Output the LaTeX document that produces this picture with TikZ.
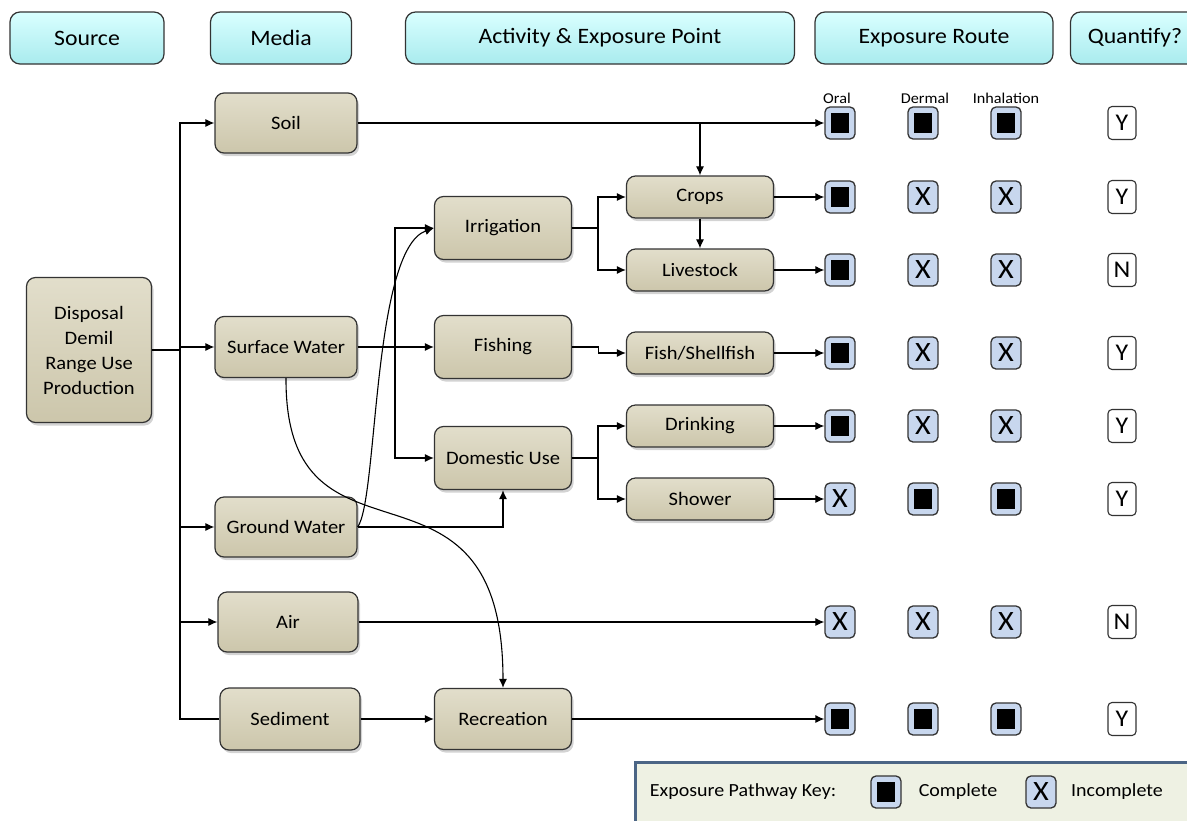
\documentclass[tikz,border=0pt]{standalone}
\usepackage{fontspec}
\setmainfont{Carlito}[FakeStretch=1.08]
\usetikzlibrary{shadows,arrows.meta}
\definecolor{hdrtop}{HTML}{D9FFFF}
\definecolor{hdrbot}{HTML}{A9EBEE}
\definecolor{tantop}{HTML}{E2DECB}
\definecolor{tanbot}{HTML}{CCC6AB}
\definecolor{symbg}{HTML}{C8D7EE}
\definecolor{keybg}{HTML}{EEF1E3}
\definecolor{keyline}{HTML}{4B6585}
\newcommand\sqfill{\rule{18pt}{20pt}}
\newcommand\sqx{X}

\begin{document}
\begin{tikzpicture}[x=1pt,y=-1pt,
	hdrbox/.style={draw=black!80,line width=1.2pt,rounded corners=10pt,top color=hdrtop,bottom color=hdrbot,minimum height=52pt,font=\fontsize{22}{26}\selectfont},
	tanbox/.style={draw=black!80,line width=1.2pt,rounded corners=9pt,top color=tantop,bottom color=tanbot,drop shadow={shadow xshift=2pt,shadow yshift=-3pt,opacity=.35},align=center,font=\fontsize{19}{25}\selectfont},
	rbox/.style={draw=black!80,line width=1.3pt,rounded corners=5pt,fill=symbg,minimum width=30pt,minimum height=32pt,inner sep=0pt,font=\fontsize{28}{28}\selectfont},
	qbox/.style={draw=black!80,line width=1.1pt,rounded corners=4pt,fill=white,minimum width=28pt,minimum height=33pt,inner sep=0pt,font=\fontsize{24}{24}\selectfont},
	arr/.style={-{Latex[length=9pt,width=8pt]},line width=1.1pt}]
	\useasboundingbox (0,0) rectangle (1187,820);
	
	\node[hdrbox,minimum width=154pt] (hsrc) at (87,38) {Source};
	\node[hdrbox,minimum width=141pt] (hmed) at (281,38) {Media};
	\node[hdrbox,minimum width=389pt] (hact) at (600,38) {Activity \& Exposure Point};
	\node[hdrbox,minimum width=238pt] (hrte) at (934,38) {Exposure Route};
	\node[hdrbox,minimum width=129pt] (hqty) at (1135,38) {Quantify?};
	
	\node[tanbox,minimum width=125pt,minimum height=145pt] (src) at (89,350) {Disposal\\Demil\\Range Use\\Production};
	\node[tanbox,minimum width=142pt,minimum height=60pt] (soil) at (286,123) {Soil};
	\node[tanbox,minimum width=142pt,minimum height=61pt] (sw) at (286,347) {Surface Water};
	\node[tanbox,minimum width=142pt,minimum height=60pt] (gw) at (286,527) {Ground Water};
	\node[tanbox,minimum width=140pt,minimum height=60pt] (air) at (288,622) {Air};
	\node[tanbox,minimum width=140pt,minimum height=62pt] (sed) at (290,719) {Sediment};
	\node[tanbox,minimum width=137pt,minimum height=63pt] (irr) at (503,228) {Irrigation};
	\node[tanbox,minimum width=137pt,minimum height=63pt] (fish) at (503,347) {Fishing};
	\node[tanbox,minimum width=137pt,minimum height=63pt] (dom) at (503,458) {Domestic Use};
	\node[tanbox,minimum width=137pt,minimum height=61pt] (rec) at (503,719) {Recreation};
	\node[tanbox,minimum width=147pt,minimum height=42pt] (crops) at (700,197) {Crops};
	\node[tanbox,minimum width=147pt,minimum height=42pt] (live) at (700,270) {Livestock};
	\node[tanbox,minimum width=147pt,minimum height=42pt] (shell) at (700,353) {Fish/Shellfish};
	\node[tanbox,minimum width=147pt,minimum height=42pt] (drink) at (700,426) {Drinking};
	\node[tanbox,minimum width=147pt,minimum height=42pt] (shower) at (700,499) {Shower};
	
	\node[font=\fontsize{15}{15}\selectfont] (lor) at (837,98) {Oral};
	\node[font=\fontsize{15}{15}\selectfont] (lde) at (925,98) {Dermal};
	\node[font=\fontsize{15}{15}\selectfont] (lin) at (1006,98) {Inhalation};
	\foreach \r/\y/\a/\b/\c/\q in {1/123/\sqfill/\sqfill/\sqfill/Y,2/197/\sqfill/\sqx/\sqx/Y,3/270/\sqfill/\sqx/\sqx/N,4/353/\sqfill/\sqx/\sqx/Y,5/426/\sqfill/\sqx/\sqx/Y,6/499/\sqx/\sqfill/\sqfill/Y,7/622/\sqx/\sqx/\sqx/N,8/719/\sqfill/\sqfill/\sqfill/Y} {
		\node[rbox] (o\r) at (840,\y) {\a};
		\node[rbox] (d\r) at (923,\y) {\b};
		\node[rbox] (i\r) at (1006,\y) {\c};
		\node[qbox] (q\r) at (1122,\y) {\q};
	}
	
	\coordinate (trk) at (180,350);
	\draw[line width=1.1pt] (src.east) -- (trk);
	\foreach \n in {soil,sw,gw,air} \draw[arr] (trk) |- (\n.west);
	\draw[line width=1.1pt] (trk) |- (sed.west);
	
	\coordinate (swj) at (395,347);
	\draw[arr] (sw.east) -- (fish.west);
	\draw[arr] (swj) |- (irr.west);
	\draw[arr] (swj) |- (dom.west);
	\draw[arr] (sw.south) .. controls (285,590) and (503,430) .. (rec.north);
	\draw[arr] (gw.east) .. controls (378,500) and (372,250) .. (irr.west);
	\draw[arr] (gw.east) -| (dom.south);
	\draw[arr] (sed.east) -- (rec.west);
	
	\coordinate (ij) at (598,228);
	\draw[line width=1.1pt] (irr.east) -- (ij);
	\draw[arr] (ij) |- (crops.west);
	\draw[arr] (ij) |- (live.west);
	\draw[arr] (crops.south) -- (live.north);
	\draw[arr] (fish.east) -- ++(26,0) |- (shell.west);
	\coordinate (dj) at (598,458);
	\draw[line width=1.1pt] (dom.east) -- (dj);
	\draw[arr] (dj) |- (drink.west);
	\draw[arr] (dj) |- (shower.west);
	
	\draw[arr] (soil.east) -- (o1.west);
	\draw[arr] (soil.east -| crops.north) -- (crops.north);
	\foreach \n/\r in {crops/2,live/3,shell/4,drink/5,shower/6,air/7,rec/8} \draw[arr] (\n.east) -- (o\r.west);
	
	\draw[draw=keyline,line width=3pt,fill=keybg] (635,762) rectangle (1200,830);
	\node[font=\fontsize{18.5}{18.5}\selectfont] (kt) at (743,792) {Exposure Pathway Key:};
	\node[rbox] (kc) at (886,792) {\sqfill};
	\node[font=\fontsize{18.5}{18.5}\selectfont] (kcl) at (958,792) {Complete};
	\node[rbox] (ki) at (1041,792) {\sqx};
	\node[font=\fontsize{18.5}{18.5}\selectfont] (kil) at (1117,792) {Incomplete};
\end{tikzpicture}
\end{document}
